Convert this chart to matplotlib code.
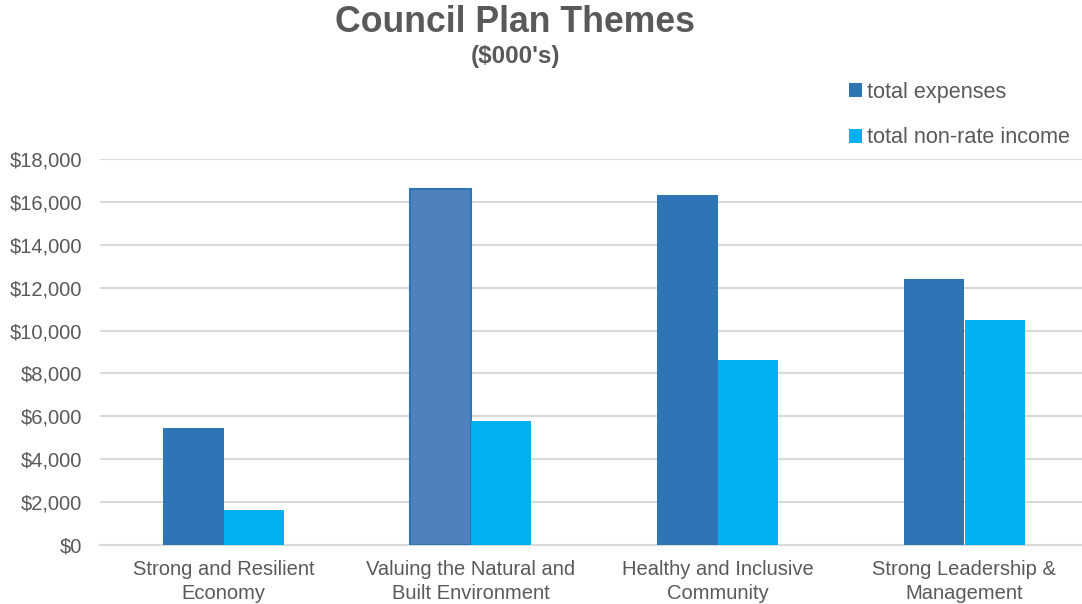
import numpy as np
import matplotlib.pyplot as plt

# === Data (in $000's) ===
categories = ["Strong and Resilient\nEconomy",
              "Valuing the Natural and\nBuilt Environment",
              "Healthy and Inclusive\nCommunity",
              "Strong Leadership &\nManagement"]
total_expenses = [5450, 16600, 16320, 12400]
total_non_rate_income = [1630, 5780, 8630, 10490]
y_ticks = [0, 2000, 4000, 6000, 8000, 10000, 12000, 14000, 16000, 18000]

plt.rcParams["font.family"] = ["Liberation Sans", "DejaVu Sans"]
text_col = "#595959"

fig = plt.figure(figsize=(10.82, 6.04), dpi=100)
ax = fig.add_axes([100 / 1082, 59 / 604, 988 / 1082, 386 / 604])

x = np.arange(len(categories))
w = 0.243

exp_colors = ["#2E75B6"] * len(categories)
exp_colors[1] = "#4F81BD"  # selected bar in the original
exp_bars = ax.bar(x - w / 2, total_expenses, w, color=exp_colors,
                  label="total expenses", zorder=3)
exp_bars[1].set_edgecolor("#2E75B6")
exp_bars[1].set_linewidth(1.5)
ax.bar(x + w / 2, total_non_rate_income, w, color="#00B0F0",
       label="total non-rate income", zorder=3)

ax.set_xlim(-0.5, len(categories) - 0.5)
ax.set_ylim(0, 18000)
ax.set_yticks(y_ticks)
ax.set_yticklabels([f"${v:,.0f}" for v in y_ticks])
ax.set_xticks(x)
ax.set_xticklabels(categories, linespacing=1.3)
ax.tick_params(axis="both", length=0, labelsize=14.5, colors=text_col)
ax.tick_params(axis="y", pad=13)
ax.tick_params(axis="x", pad=11)
ax.yaxis.grid(True, color="#D9D9D9", linewidth=1.5, zorder=0)
for s in ["top", "right", "left"]:
    ax.spines[s].set_visible(False)
ax.spines["bottom"].set_color("#D9D9D9")
ax.spines["bottom"].set_linewidth(1.5)

fig.text(515 / 1082, 1 - 23 / 604, "Council Plan Themes", ha="center", va="center",
         fontsize=25.7, fontweight="bold", color=text_col)
fig.text(516 / 1082, 1 - 57 / 604, "($000's)", ha="center", va="center",
         fontsize=17.5, fontweight="bold", color=text_col)

leg = fig.legend(loc="upper left", bbox_to_anchor=(829 / 1082, 1 - 62 / 604),
                 frameon=False, fontsize=15.6, labelcolor=text_col,
                 handlelength=0.62, handleheight=0.62, handletextpad=0.22,
                 labelspacing=1.15)

fig.savefig("out.png", dpi=100)
